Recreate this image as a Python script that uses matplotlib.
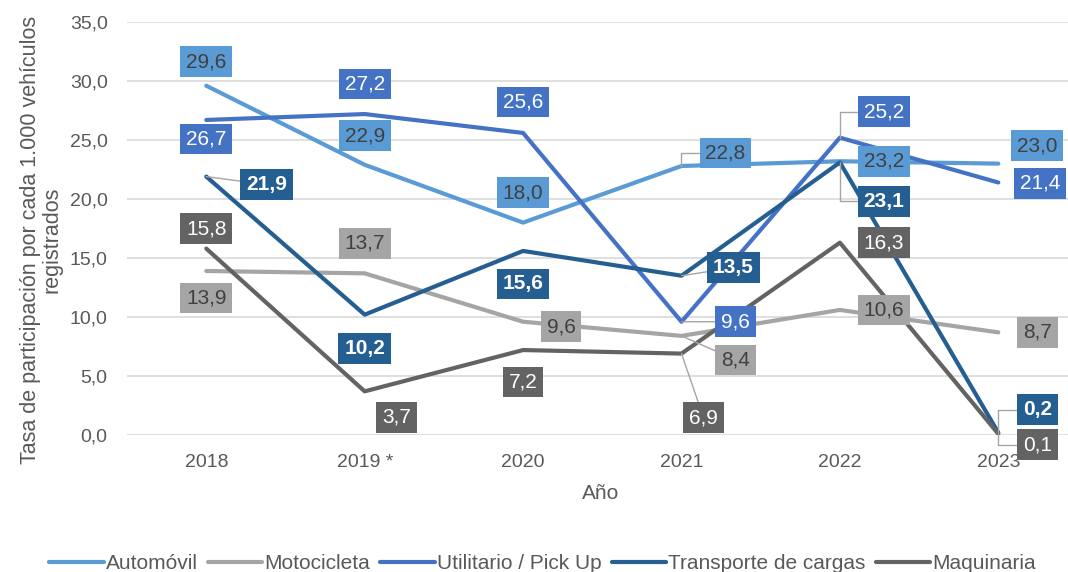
import matplotlib.pyplot as plt

plt.rcParams['font.family'] = ['Liberation Sans', 'DejaVu Sans']

anios = ['2018', '2019 *', '2020', '2021', '2022', '2023']
series = ['Automóvil', 'Motocicleta', 'Utilitario / Pick Up', 'Transporte de cargas', 'Maquinaria']
automovil = [29.6, 22.9, 18.0, 22.8, 23.2, 23.0]
motocicleta = [13.9, 13.7, 9.6, 8.4, 10.6, 8.7]
utilitario = [26.7, 27.2, 25.6, 9.6, 25.2, 21.4]
transporte = [21.9, 10.2, 15.6, 13.5, 23.1, 0.2]
maquinaria = [15.8, 3.7, 7.2, 6.9, 16.3, 0.1]

colores = ['#5B9BD5', '#A5A5A5', '#4472C4', '#255E91', '#636363']
txt_col = ['#404040', '#404040', 'white', 'white', 'white']
negrita = [False, False, False, True, False]

# desplazamiento de cada etiqueta (pixeles) y tipo de linea guia (0 nada, 1 recta, 2 codo)
offs = [
    [(0, 24, 0), (0, 29, 0), (0, 30, 0), (44, 13, 2), (44, 0, 0), (39, 18, 0)],
    [(0, -27, 0), (0, 30, 0), (38, -5, 0), (54, -24, 1), (44, 0, 0), (39, 0, 0)],
    [(0, -19, 0), (0, 30, 0), (0, 31, 0), (54, 0, 1), (44, 26, 2), (42, -1, 0)],
    [(60, -8, 1), (0, -34, 0), (0, -33, 0), (52, 8, 1), (44, -39, 2), (39, 23, 2)],
    [(0, 20, 0), (32, -26, 0), (0, -32, 0), (22, -64, 1), (44, 0, 0), (39, -11, 2)],
]

fig = plt.figure(figsize=(10.68, 5.72), dpi=100)
ax = fig.add_axes([0.119, 0.2395, 0.881, 0.722])

datos = [automovil, motocicleta, utilitario, transporte, maquinaria]
x = list(range(len(anios)))
for i, vals in enumerate(datos):
    ax.plot(x, vals, color=colores[i], lw=3, label=series[i], solid_capstyle='round', zorder=3)

for i, vals in enumerate(datos):
    for j, v in enumerate(vals):
        dx, dy, guia = offs[i][j]
        arrow = None
        if guia == 1:
            arrow = dict(arrowstyle='-', color='#A5A5A5', lw=1, shrinkA=0, shrinkB=0)
        elif guia == 2:
            arrow = dict(arrowstyle='-', color='#A5A5A5', lw=1, shrinkA=0, shrinkB=0,
                         connectionstyle='angle,angleA=0,angleB=90,rad=0')
        ax.annotate(f'{v:.1f}'.replace('.', ','), (j, v), xytext=(dx, dy),
                    textcoords='offset pixels', ha='center', va='center',
                    fontsize=15, color=txt_col[i],
                    fontweight='bold' if negrita[i] else 'normal',
                    bbox=dict(boxstyle='square,pad=0.28', fc=colores[i], ec='none'),
                    arrowprops=arrow, zorder=5, annotation_clip=False)

ax.set_ylim(0, 35)
ax.set_xlim(-0.5, 5.44)
ax.set_yticks(range(0, 36, 5))
ax.set_yticklabels([f'{t:.1f}'.replace('.', ',') for t in range(0, 36, 5)])
ax.set_xticks(x)
ax.set_xticklabels(anios)
ax.tick_params(length=0, labelsize=14, colors='#595959')
ax.tick_params(axis='x', pad=14)
ax.tick_params(axis='y', pad=14)
ax.grid(axis='y', color='#D9D9D9', lw=1.2)
ax.set_axisbelow(True)
for s in ax.spines.values():
    s.set_visible(False)

ax.set_xlabel('Año', fontsize=15, color='#595959')
ax.xaxis.set_label_coords(0.503, -0.118)
ax.set_ylabel('Tasa de participación por cada 1.000 vehículos\nregistrados', fontsize=15.5,
              color='#595959', linespacing=1.0)
ax.yaxis.set_label_coords(-0.069, 0.472)

fig.legend(loc='lower center', ncol=5, frameon=False,
           prop=dict(family=['Liberation Sans Narrow', 'Liberation Sans'], size=15),
           bbox_to_anchor=(0.508, -0.035), handlelength=2.6, handletextpad=0.1,
           columnspacing=0.5, labelcolor='#595959')

fig.savefig('out.png', dpi=100)
